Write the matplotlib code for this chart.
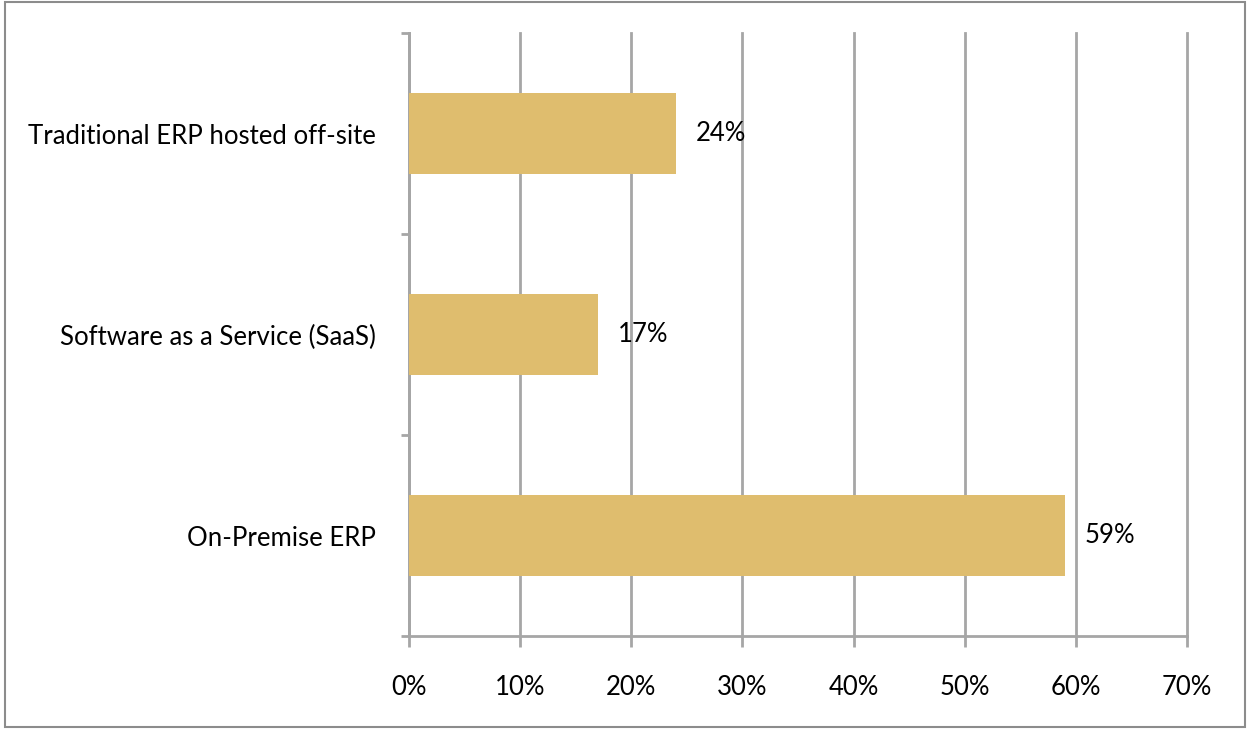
import matplotlib.pyplot as plt
from matplotlib.patches import Rectangle
from matplotlib.ticker import FuncFormatter

plt.rcParams['font.family'] = ['Lato', 'DejaVu Sans']
plt.rcParams['font.size'] = 18.5

categories = ['On-Premise ERP', 'Software as a Service (SaaS)', 'Traditional ERP hosted off-site']
values = [59, 17, 24]
bar_color = '#DFBD6E'
grid_color = '#A6A6A6'

fig = plt.figure(figsize=(12.5, 7.29), dpi=100)
ax = fig.add_axes([409 / 1250, 1 - 636 / 729, (1187 - 409) / 1250, (636 - 33) / 729])

ypos = range(len(categories))
ax.barh(ypos, values, height=0.4, color=bar_color, zorder=3)
for y, v in zip(ypos, values):
    ax.text(v + 1.8, y, f'{v}%', va='center', ha='left', color='black')

ax.set_xlim(0, 70)
ax.set_ylim(-0.5, len(categories) - 0.5)
ax.set_xticks(range(0, 71, 10))
ax.xaxis.set_major_formatter(FuncFormatter(lambda x, p: f'{int(x)}%'))
ax.set_yticks(list(ypos))
ax.set_yticklabels(categories)
ax.set_yticks([-0.5, 0.5, 1.5, 2.5], minor=True)
ax.tick_params(axis='y', which='major', length=0, pad=24)
ax.tick_params(axis='y', which='minor', length=6, width=2, color=grid_color)
ax.tick_params(axis='x', length=8, width=2, color=grid_color, pad=20)

ax.grid(axis='x', color=grid_color, linewidth=2, zorder=0)
for gl in ax.get_xgridlines():
    gl.set_clip_on(False)
for s in ['top', 'right']:
    ax.spines[s].set_visible(False)
for s in ['left', 'bottom']:
    ax.spines[s].set_color(grid_color)
    ax.spines[s].set_linewidth(2)

fig.patches.append(Rectangle((5 / 1250, 2 / 729), 1240 / 1250, 725 / 729,
                             transform=fig.transFigure, fill=False,
                             edgecolor='#8C8C8C', linewidth=1.5))

fig.savefig('out.png', dpi=100)
